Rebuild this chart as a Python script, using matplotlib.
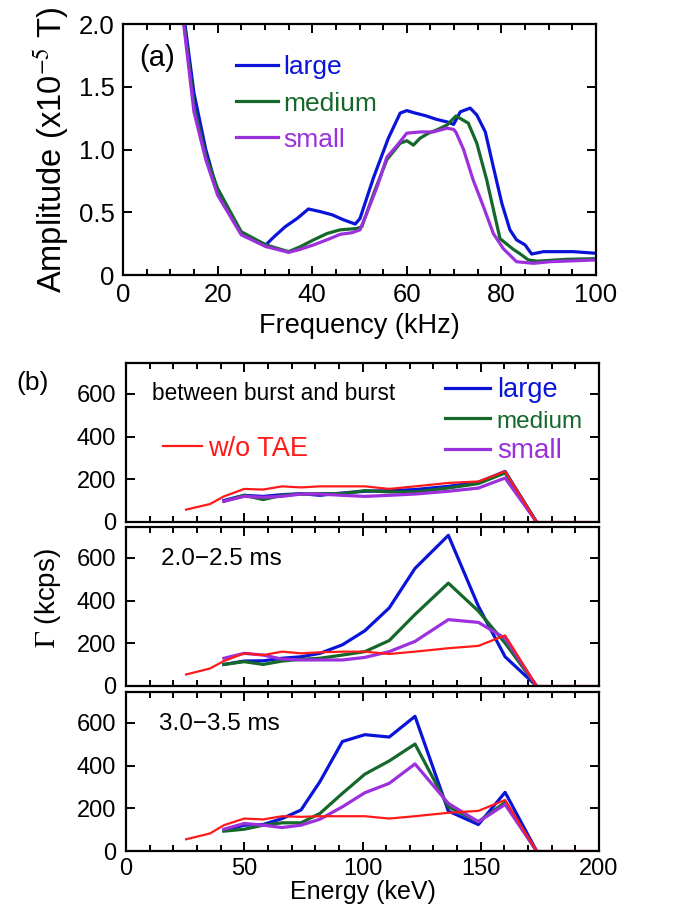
import numpy as np
import matplotlib
matplotlib.use("Agg")
import matplotlib.pyplot as plt
from matplotlib.ticker import MultipleLocator, FuncFormatter

plt.rcParams['font.family'] = ['Liberation Sans', 'DejaVu Sans']
plt.rcParams['mathtext.fontset'] = 'stix'

# ---- panel (a): amplitude spectra ----
blue_f = [12.4, 15, 17.5, 20, 25, 30.2, 31.8, 34.3, 36.8, 39.2, 41.7, 44.2, 46.6, 49.1, 50.1, 53,
          56.1, 58.6, 60, 61.8, 63.9, 66.3, 68.5, 69.9, 71.3, 73.4, 74.8, 76.6, 78.3, 80.1, 81.8,
          83.2, 85, 86.4, 88.9, 95.2, 100]
blue_a = [2.2, 1.45, 1.0, 0.664, 0.33, 0.24, 0.30, 0.385, 0.45, 0.526, 0.505, 0.48, 0.44, 0.406,
          0.45, 0.78, 1.09, 1.29, 1.31, 1.29, 1.27, 1.24, 1.22, 1.20, 1.30, 1.33, 1.275, 1.14, 0.86,
          0.57, 0.36, 0.28, 0.24, 0.167, 0.186, 0.186, 0.173]

green_f = [12.3, 15, 17.5, 20, 25, 30.2, 35, 37.5, 40.3, 43.1, 45.9, 49.4, 50.5, 53, 55.8, 58.6,
           60, 61.4, 62.8, 64.6, 66.3, 68.5, 70.4, 73, 74.8, 76.9, 79.7, 82.5, 83.9, 85.7, 87.5,
           93.8, 100]
green_a = [2.2, 1.35, 0.95, 0.69, 0.345, 0.24, 0.186, 0.226, 0.28, 0.33, 0.36, 0.37, 0.385, 0.65,
           0.92, 1.05, 1.07, 1.035, 1.09, 1.13, 1.155, 1.195, 1.267, 1.21, 1.05, 0.757, 0.29,
           0.205, 0.17, 0.12, 0.11, 0.125, 0.13]

purple_f = [12.2, 15, 17.5, 20, 25, 30.2, 32.5, 35, 37.5, 40.3, 43.1, 45.9, 48.4, 50.1, 51.5,
            53.7, 55.8, 57.9, 60, 62.8, 65.6, 68.5, 69.9, 70.4, 72, 74, 76.2, 78.3, 80.4, 83.2,
            86.8, 90.3, 100]
purple_a = [2.2, 1.3, 0.92, 0.637, 0.32, 0.226, 0.205, 0.18, 0.205, 0.24, 0.28, 0.324, 0.337,
            0.36, 0.49, 0.70, 0.94, 1.03, 1.13, 1.14, 1.14, 1.17, 1.16, 1.137, 1.0, 0.76, 0.545,
            0.33, 0.21, 0.106, 0.093, 0.106, 0.12]

# ---- panel (b): energy spectra ----
energy = [25.4, 35.5, 41.4, 50, 58, 66, 74, 82, 91.5, 101, 111.3, 122.2, 136.3, 149, 160.3,
          173.6, 187, 200]
energy_tae = energy[2:16]

b1_red = [58, 84, 120, 155, 152, 167, 162, 167, 167, 167, 155, 167, 183, 190, 237, 0, 0, 0]
b1_blue = [101, 125, 120, 128, 133, 125, 136, 144, 147, 152, 167, 186, 237, 0]
b1_green = [97, 125, 105, 125, 131, 133, 133, 147, 141, 141, 159, 180, 230, 0]
b1_purple = [97, 120, 116, 120, 131, 131, 125, 120, 125, 131, 144, 159, 206, 0]

b2_red = [54, 82, 117, 153, 145, 161, 153, 158, 161, 161, 150, 161, 177, 188, 237, 0, 0, 0]
b2_blue = [101, 117, 118, 130, 137, 153, 193, 259, 366, 551, 706, 374, 137, 0]
b2_green = [101, 114, 101, 117, 125, 130, 145, 161, 213, 335, 482, 351, 201, 0]
b2_purple = [130, 153, 145, 126, 122, 122, 122, 134, 161, 209, 311, 298, 224, 0]

b3_red = [55, 82, 121, 152, 148, 163, 160, 163, 163, 163, 152, 163, 179, 188, 239, 0, 0, 0]
b3_blue = [97, 121, 124, 152, 192, 325, 513, 545, 534, 631, 187, 124, 275, 0]
b3_green = [93, 102, 121, 132, 132, 176, 270, 360, 422, 501, 207, 137, 228, 0]
b3_purple = [102, 129, 121, 110, 121, 149, 207, 273, 317, 408, 223, 137, 218, 0]

C_BLUE = '#0a14d8'
C_GREEN = '#14682a'
C_PURPLE = '#9b30dc'
C_RED = '#ff1a1a'

W, H = 689, 923
fig = plt.figure(figsize=(W / 100, H / 100), dpi=100)


def box(l, t, r, b):
    return [l / W, 1 - b / H, (r - l) / W, (b - t) / H]


def style(ax):
    for s in ax.spines.values():
        s.set_linewidth(1.6)
    ax.tick_params(which='both', direction='in', top=True, right=True, width=1.4)
    ax.tick_params(which='major', length=6.5)
    ax.tick_params(which='minor', length=4)


# panel (a)
ax = fig.add_axes(box(123, 24, 596, 275))
style(ax)
ax.plot(blue_f, blue_a, color=C_BLUE, lw=2.3, label='large')
ax.plot(green_f, green_a, color=C_GREEN, lw=2.3, label='medium')
ax.plot(purple_f, purple_a, color=C_PURPLE, lw=2.3, label='small')
ax.set_xlim(0, 100)
ax.set_ylim(0, 2.0)
ax.xaxis.set_major_locator(MultipleLocator(20))
ax.xaxis.set_minor_locator(MultipleLocator(5))
ax.yaxis.set_major_locator(MultipleLocator(0.5))
ax.yaxis.set_major_formatter(FuncFormatter(lambda v, p: '0' if v == 0 else f'{v:.1f}'))
ax.tick_params(labelsize=18.5, pad=6)
ax.set_xlabel('Frequency (kHz)', fontsize=19.5, labelpad=4)
ax.set_ylabel('Amplitude (x10$^{-5}$ T)', fontsize=23.5, labelpad=5)
ax.text(0.035, 0.865, '(a)', transform=ax.transAxes, fontsize=21, va='center', ha='left')
leg = ax.legend(loc='upper left', bbox_to_anchor=(0.239, 0.875), frameon=False, fontsize=19,
                handlelength=1.6, handletextpad=0.2, labelspacing=0.46, borderpad=0,
                borderaxespad=0, labelcolor='linecolor')

# panel (b)
panels = [
    (363, 522, b1_red, b1_blue, b1_green, b1_purple),
    (527, 686, b2_red, b2_blue, b2_green, b2_purple),
    (692, 851, b3_red, b3_blue, b3_green, b3_purple),
]
axes_b = []
for top, bot, red, blue, green, purple in panels:
    axb = fig.add_axes(box(126, top, 599, bot))
    style(axb)
    axb.plot(energy_tae, blue, color=C_BLUE, lw=2.3, label='large')
    axb.plot(energy_tae, green, color=C_GREEN, lw=2.3, label='medium')
    axb.plot(energy_tae, purple, color=C_PURPLE, lw=2.3, label='small')
    axb.plot(energy, red, color=C_RED, lw=1.6, label='w/o TAE')
    axb.set_xlim(0, 200)
    axb.set_ylim(0, 745)
    axb.xaxis.set_major_locator(MultipleLocator(50))
    axb.xaxis.set_minor_locator(MultipleLocator(10))
    axb.yaxis.set_major_locator(MultipleLocator(200))
    axb.tick_params(labelsize=17, pad=7)
    axes_b.append(axb)

for axb in axes_b[:2]:
    axb.tick_params(labelbottom=False)
axes_b[2].tick_params(axis='x', pad=5)

b1, b2, b3 = axes_b
b1.text(0.055, 0.81, 'between burst and burst', transform=b1.transAxes, fontsize=16.3,
        va='center', ha='left')
h = b1.get_legend_handles_labels()
leg_red = b1.legend([h[0][3]], [h[1][3]], loc='center left', bbox_to_anchor=(0.078, 0.46),
                    frameon=False, fontsize=19.5, handlelength=1.45, handletextpad=0.2,
                    borderpad=0, borderaxespad=0, labelcolor='linecolor')
b1.add_artist(leg_red)
leg_b = b1.legend(h[0][:3], h[1][:3], loc='upper left', bbox_to_anchor=(0.674, 0.91),
                  frameon=False, fontsize=19, handlelength=1.7, handletextpad=0.27,
                  labelspacing=0.22, borderpad=0, borderaxespad=0, labelcolor='linecolor')
for t, fs in zip(leg_b.get_texts(), [19.5, 17.5, 20]):
    t.set_fontsize(fs)

b2.text(0.075, 0.8, '2.0\u22122.5 ms', transform=b2.transAxes, fontsize=17.5, va='center', ha='left')
b3.text(0.07, 0.8, '3.0\u22123.5 ms', transform=b3.transAxes, fontsize=17.5, va='center', ha='left')
b3.set_xlabel('Energy (keV)', fontsize=18, labelpad=0)

fig.text(48 / W, 1 - 598 / H, r'$\Gamma$ (kcps)', rotation=90, fontsize=20, ha='center', va='center')
fig.text(33 / W, 1 - 383 / H, '(b)', fontsize=19, ha='center', va='center')

fig.savefig('out.png', dpi=100)
